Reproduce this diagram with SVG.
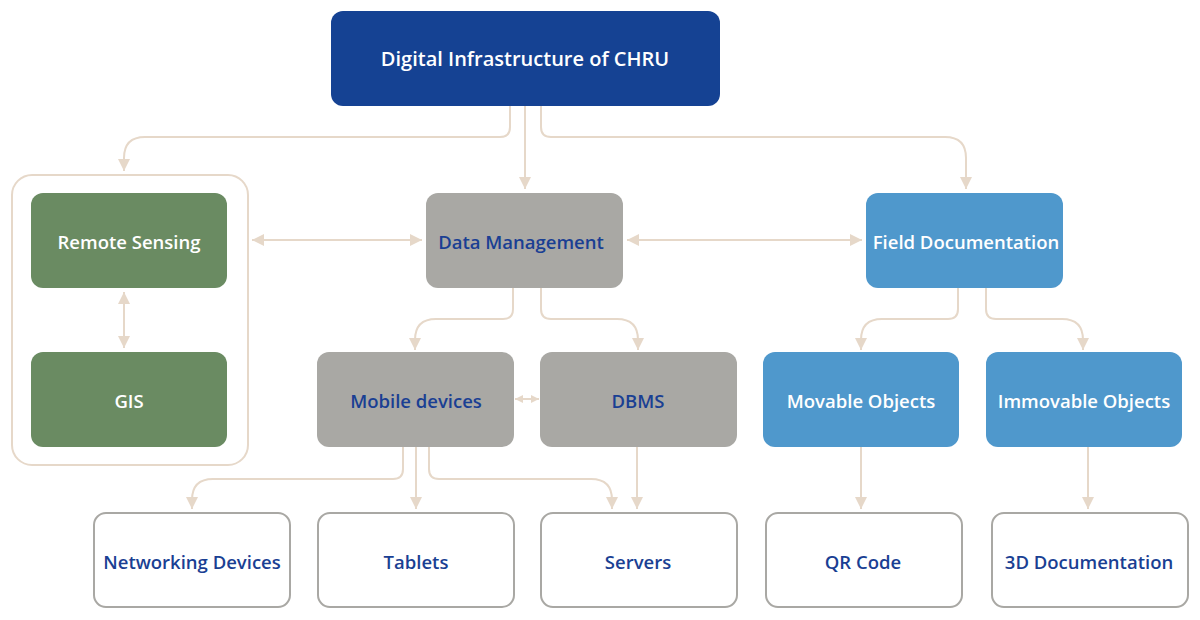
<svg xmlns="http://www.w3.org/2000/svg" width="1200" height="620" viewBox="0 0 1200 620">
<style>
.c{fill:none;stroke:#e6d8c9;stroke-width:2;marker-end:url(#ah)}
.d{marker-start:url(#ah)}
.s{fill:none;stroke:#e6d8c9;stroke-width:2;marker-end:url(#sm);marker-start:url(#sm)}
.t{font-family:"Open Sans","Liberation Sans",sans-serif;font-weight:600;font-size:18.5px;text-anchor:middle;dominant-baseline:central}
.w{fill:#ffffff}
.b{fill:#1a3f93}
.green{fill:#6a8b62}
.grey{fill:#a9a8a4}
.blue{fill:#4f98cc}
.leaf{fill:#ffffff;stroke:#a9a8a4;stroke-width:2}
</style>
<defs>
<marker id="ah" viewBox="0 0 12 12" refX="12" refY="6" markerWidth="12" markerHeight="12" markerUnits="userSpaceOnUse" orient="auto-start-reverse">
<path d="M0,0 L12,6 L0,12 z" fill="#e6d8c9"/>
</marker>
<marker id="sm" viewBox="0 0 8 8" refX="8" refY="4" markerWidth="8" markerHeight="8" markerUnits="userSpaceOnUse" orient="auto-start-reverse">
<path d="M0,0 L8,4 L0,8 z" fill="#e6d8c9"/>
</marker>
</defs>
<rect width="1200" height="620" fill="#ffffff"/>
<g id="connectors">
<path class="c" d="M510,106 V127 Q510,137 500,137 H145 Q124,137 124,158 V171"/>
<path class="c" d="M525,106 V189"/>
<path class="c" d="M541,106 V127 Q541,137 551,137 H945 Q966,137 966,158 V189"/>
<path class="c d" d="M252,240 H422"/>
<path class="c d" d="M627,240 H862"/>
<path class="c d" d="M124,292 V348"/>
<path class="c" d="M513,288 V309 Q513,319 503,319 H436 Q415,319 415,340 V350"/>
<path class="c" d="M541,288 V309 Q541,319 551,319 H617 Q638,319 638,340 V350"/>
<path class="s" d="M515,399 H539"/>
<path class="c" d="M958,288 V309 Q958,319 948,319 H882 Q861,319 861,340 V350"/>
<path class="c" d="M986,288 V309 Q986,319 996,319 H1062 Q1083,319 1083,340 V350"/>
<path class="c" d="M403,447 V469 Q403,479 393,479 H213 Q192,479 192,500 V509"/>
<path class="c" d="M416,447 V509"/>
<path class="c" d="M429,447 V469 Q429,479 439,479 H591 Q612,479 612,500 V509"/>
<path class="c" d="M637,447 V509"/>
<path class="c" d="M861,447 V509"/>
<path class="c" d="M1088,447 V509"/>
</g>
<g id="root">
<rect x="331" y="11" width="389" height="95" rx="12" fill="#154293"/>
<text class="t w" x="525" y="58" style="font-size:20px">Digital Infrastructure of CHRU</text>
</g>
<g id="group-rs">
<rect x="12" y="175" width="236" height="290" rx="20" fill="none" stroke="#e6d8c9" stroke-width="2"/>
</g>
<g id="remote-sensing">
<rect class="green" x="31" y="193" width="196" height="95" rx="12"/>
<text class="t w" x="129" y="241">Remote Sensing</text>
</g>
<g id="gis">
<rect class="green" x="31" y="352" width="196" height="95" rx="12"/>
<text class="t w" x="129" y="400">GIS</text>
</g>
<g id="data-management">
<rect class="grey" x="426" y="193" width="197" height="95" rx="12"/>
<text class="t b" x="521" y="241">Data Management</text>
</g>
<g id="field-documentation">
<rect class="blue" x="866" y="193" width="197" height="95" rx="12"/>
<text class="t w" x="966" y="241">Field Documentation</text>
</g>
<g id="mobile-devices">
<rect class="grey" x="317" y="352" width="197" height="95" rx="12"/>
<text class="t b" x="416" y="400">Mobile devices</text>
</g>
<g id="dbms">
<rect class="grey" x="540" y="352" width="197" height="95" rx="12"/>
<text class="t b" x="638" y="400">DBMS</text>
</g>
<g id="movable-objects">
<rect class="blue" x="763" y="352" width="196" height="95" rx="12"/>
<text class="t w" x="861" y="400">Movable Objects</text>
</g>
<g id="immovable-objects">
<rect class="blue" x="986" y="352" width="196" height="95" rx="12"/>
<text class="t w" x="1084" y="400">Immovable Objects</text>
</g>
<g id="networking-devices">
<rect class="leaf" x="94" y="513" width="196" height="94" rx="12"/>
<text class="t b" x="192" y="561">Networking Devices</text>
</g>
<g id="tablets">
<rect class="leaf" x="318" y="513" width="196" height="94" rx="12"/>
<text class="t b" x="416" y="561">Tablets</text>
</g>
<g id="servers">
<rect class="leaf" x="541" y="513" width="196" height="94" rx="12"/>
<text class="t b" x="638" y="561">Servers</text>
</g>
<g id="qr-code">
<rect class="leaf" x="766" y="513" width="196" height="94" rx="12"/>
<text class="t b" x="863" y="561">QR Code</text>
</g>
<g id="3d-documentation">
<rect class="leaf" x="992" y="513" width="196" height="94" rx="12"/>
<text class="t b" x="1089" y="561">3D Documentation</text>
</g>
</svg>
